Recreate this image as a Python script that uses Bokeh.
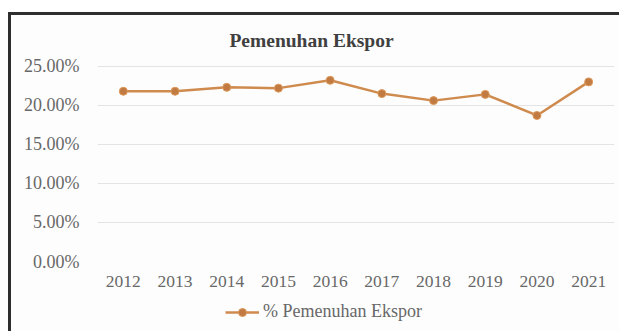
from bokeh.plotting import figure
from bokeh.layouts import column
from bokeh.models import (Range1d, FixedTicker, PrintfTickFormatter, Legend, LegendItem, Label)
from bokeh.embed import file_html
from bokeh.resources import INLINE

years = ["2012", "2013", "2014", "2015", "2016", "2017", "2018", "2019", "2020", "2021"]
pemenuhan = [21.8, 21.8, 22.3, 22.2, 23.2, 21.5, 20.6, 21.4, 18.7, 23.0]
y_ticks = [0, 5, 10, 15, 20, 25]
title_text = "Pemenuhan Ekspor"
series_name = "% Pemenuhan Ekspor"

FONT = "Liberation Serif"
LINE_COLOR = "#CF8A4E"
MARK_FILL = "#C07A42"
MARK_LINE = "#DE9A5A"
TEXT_COLOR = "#686868"
BG = "#fdfdfd"

# main chart: frame runs from the top of the canvas so the title sits inside it
p = figure(x_range=years, y_range=Range1d(0, 31.5), width=608, height=280,
           output_backend="svg", toolbar_location=None,
           min_border_left=86, min_border_right=5, min_border_top=0, min_border_bottom=34)
p.background_fill_color = BG
p.border_fill_color = BG
p.outline_line_color = None

line = p.line(years, pemenuhan, line_color=LINE_COLOR, line_width=2.5)
pts = p.scatter(years, pemenuhan, size=8, fill_color=MARK_FILL, line_color=MARK_LINE, line_width=1)

p.yaxis.ticker = FixedTicker(ticks=y_ticks)
p.yaxis.formatter = PrintfTickFormatter(format="%.2f%%")
for ax in (p.xaxis[0], p.yaxis[0]):
    ax.axis_line_color = None
    ax.major_tick_line_color = None
    ax.minor_tick_line_color = None
    ax.major_label_text_font = FONT
    ax.major_label_text_color = TEXT_COLOR
p.yaxis.major_label_text_font_size = "18px"
p.xaxis.major_label_text_font_size = "17.5px"
p.yaxis.major_label_standoff = 12
p.xaxis.major_label_standoff = 8
p.xgrid.grid_line_color = None
p.ygrid.grid_line_color = "#e4e4e4"
p.ygrid.grid_line_width = 1.2

title = Label(x=214, y=221, x_units="screen", y_units="screen", text=title_text,
              text_align="center", text_baseline="middle", text_font=FONT,
              text_font_size="19.5px", text_font_style="bold", text_color="#404040")
p.add_layout(title)

# legend strip under the chart (its renderers sit outside the visible y range)
p2 = figure(width=608, height=36, x_range=years, y_range=Range1d(100, 101),
            output_backend="svg", toolbar_location=None,
            x_axis_type=None, y_axis_type=None,
            min_border_left=0, min_border_right=0, min_border_top=0, min_border_bottom=0)
p2.background_fill_color = BG
p2.border_fill_color = BG
p2.outline_line_color = None
p2.xgrid.grid_line_color = None
p2.ygrid.grid_line_color = None
leg_line = p2.line(years, pemenuhan, line_color=LINE_COLOR, line_width=2.5)
leg_pts = p2.scatter(years, pemenuhan, size=8, fill_color=MARK_FILL, line_color=MARK_LINE, line_width=1)

legend = Legend(items=[LegendItem(label=series_name, renderers=[leg_line, leg_pts])],
                location=(128, 9), orientation="horizontal",
                padding=0, margin=0, glyph_width=34, glyph_height=20, label_standoff=4,
                border_line_alpha=0, background_fill_alpha=0,
                label_text_font=FONT, label_text_font_size="18px", label_text_color=TEXT_COLOR)
p2.add_layout(legend, "center")

layout = column(p, p2, margin=(12, 0, 0, 8),
                styles={"border-left": "3px solid #2e2e2e", "border-top": "3px solid #2e2e2e",
                        "background-color": BG})

open("out.html", "w").write(file_html(layout, INLINE))
